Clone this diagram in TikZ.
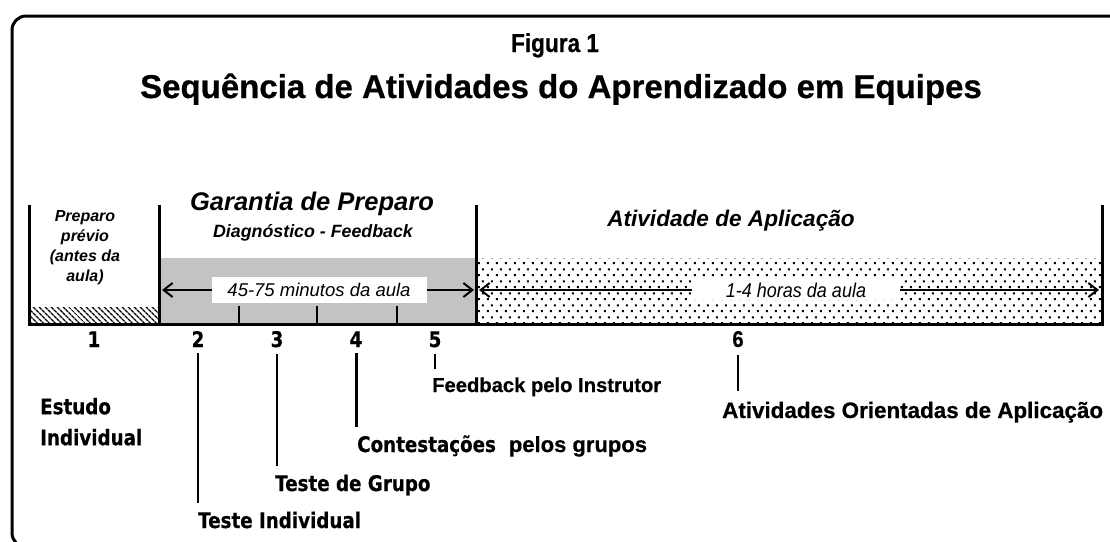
\documentclass[tikz,border=0pt]{standalone}
\usepackage{fontspec}
\setmainfont[BoldFeatures={FakeBold=0.6}]{Liberation Sans}
\newfontfamily\tah[FakeStretch=0.85,BoldFeatures={FakeBold=0.5}]{DejaVu Sans}
\newfontfamily\narrowit[FakeStretch=0.9]{Liberation Sans}
\newfontfamily\condb[FakeStretch=0.87,BoldFeatures={FakeBold=0.6}]{Liberation Sans}
\usetikzlibrary{patterns,patterns.meta,arrows.meta}
\definecolor{fillgray}{RGB}{195,195,195}
\tikzdeclarepattern{
  name=sparsedots,
  type=uncolored,
  bounding box={(0pt,0pt) and (9pt,12pt)},
  tile size={(9pt,12pt)},
  code={
    \pgfpathrectangle{\pgfpoint{1pt}{1pt}}{\pgfpoint{2.1pt}{2.1pt}}
    \pgfpathrectangle{\pgfpoint{5.5pt}{7pt}}{\pgfpoint{2.1pt}{2.1pt}}
    \pgfusepath{fill}
  }
}
\begin{document}
\begin{tikzpicture}[x=1pt,y=-1pt,
  frame/.style={line width=3pt},
  boxline/.style={line width=3pt},
  tickline/.style={line width=2pt},
  leader/.style={line width=2.2pt, shorten <=6pt, shorten >=8pt},
  span/.style={line width=2pt, {Straight Barb[length=9pt,width=14pt]}-{Straight Barb[length=9pt,width=14pt]}},
  tahfont/.style={font=\tah\bfseries\fontsize{21.5}{31}\selectfont},
  num/.style={tahfont, inner sep=0pt, anchor=base},
  lab/.style={tahfont, inner sep=0pt, anchor=base west},
  arlab/.style={inner sep=0pt, anchor=base west},
]
\useasboundingbox (0,0) rectangle (1110,541);
\clip (0,0) rectangle (1110,541);

% frame
\draw[frame, rounded corners=14pt] (12,16) rectangle (1125,547);

% fills
\fill[fillgray] (159,258) rectangle (476,324);
\fill[pattern={Lines[angle=-45,distance=4pt,line width=1.4pt]}] (29,307) rectangle (159,324);
\fill[pattern=sparsedots] (476,258) rectangle (1102,324);

% box lines
\draw[boxline] (29,205) -- (29,324) -- (1102,324) -- (1102,205);
\draw[boxline] (159,205) -- (159,324);
\draw[boxline] (476,205) -- (476,324);
\draw[tickline] (239,306) -- (239,324);
\draw[tickline] (317,306) -- (317,324);
\draw[tickline] (397,306) -- (397,324);

% titles
\node[font=\condb\bfseries\fontsize{26}{28}\selectfont, anchor=base] (fig) at (555,52) {Figura 1};
\node[font=\bfseries\fontsize{33}{38}\selectfont, anchor=base] (title) at (561,98) {Sequência de Atividades do Aprendizado em Equipes};

% section headers
\node[font=\bfseries\itshape\fontsize{25.5}{28}\selectfont, anchor=base] (gar) at (312,210) {Garantia de Preparo};
\node[font=\bfseries\itshape\fontsize{17.8}{20}\selectfont, anchor=base] (diag) at (313,237) {Diagnóstico - Feedback};
\node[font=\bfseries\itshape\fontsize{22.6}{26}\selectfont, anchor=base] (apl) at (731,226) {Atividade de Aplicação};
\node[font=\bfseries\itshape\fontsize{16}{20}\selectfont, align=center, inner sep=0pt] (prep) at (85,248) {Preparo\\prévio\\(antes da\\aula)};

% span arrows
\coordinate (a1) at (162,290);
\coordinate (b1) at (474,290);
\draw[span] (a1) -- (b1);
\node[fill=white, inner sep=0pt, minimum width=215pt, minimum height=26pt, font=\itshape\fontsize{18.5}{20}\selectfont] (t1) at (319,290) {45-75 minutos da aula};
\coordinate (a2) at (479,290);
\coordinate (b2) at (1099,290);
\draw[span] (a2) -- (b2);
\node[fill=white, inner sep=0pt, minimum width=208pt, minimum height=20pt, font=\narrowit\itshape\fontsize{20}{22}\selectfont] (t2) at (796,290) {1-4 horas da aula};

% numbers
\node[num] (n1) at (94,347) {1};
\node[num] (n2) at (198,347) {2};
\node[num] (n3) at (277,347) {3};
\node[num] (n4) at (356,347) {4};
\node[num] (n5) at (435,347) {5};
\node[inner sep=0pt, anchor=base, font=\condb\bfseries\fontsize{23}{24}\selectfont] (n6) at (738,347) {6};

% labels
\node[tahfont, inner sep=0pt, anchor=north west, align=left] (l1) at (40,397.7) {Estudo\\Individual};
\node[lab] (l2) at (198,528) {Teste Individual};
\node[lab] (l3) at (275,491) {Teste de Grupo};
\node[lab] (l4) at (357,452) {Contestações\hspace{13pt}{\fontspec{Liberation Sans}[BoldFeatures={FakeBold=0.6}]\bfseries\fontsize{22}{24}\selectfont pelos grupos}};
\node[arlab, font=\bfseries\fontsize{20.2}{24}\selectfont] (l5) at (432,392) {Feedback pelo Instrutor};
\node[arlab, font=\bfseries\fontsize{22.4}{26}\selectfont] (l6) at (722,418) {Atividades Orientadas de Aplicação};

% leaders
\draw[leader] (n2.south) -- (n2.south |- l2.north);
\draw[leader] (n3.south) -- (n3.south |- l3.north);
\draw[leader, line width=3pt] (n4.south) -- (n4.south |- l4.north);
\draw[leader] (n5.south) -- (n5.south |- l5.north);
\draw[leader, shorten <=8pt, shorten >=11pt] (n6.south) -- (n6.south |- l6.north);
\end{tikzpicture}
\end{document}
